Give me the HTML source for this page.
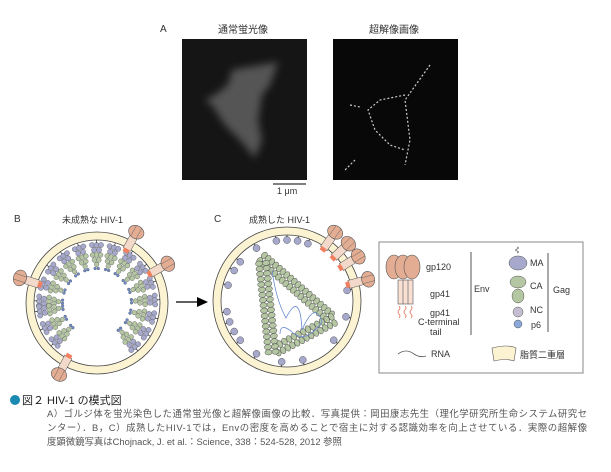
<!DOCTYPE html>
<html><head><meta charset="utf-8"><style>
body{margin:0;background:#fff;width:611px;height:472px;overflow:hidden;font-family:"Liberation Sans","Noto Sans CJK JP",sans-serif;}
svg{position:absolute;left:0;top:0}
</style></head><body>
<svg id="s" width="611" height="472" viewBox="0 0 611 472" font-family="Liberation Sans, Noto Sans CJK JP, sans-serif">
<defs>
<filter id="bl"><feGaussianBlur stdDeviation="4"/></filter>
</defs>
<text x="160" y="32" font-size="10" fill="#333">A</text>
<text x="218" y="33" font-size="10" fill="#333">通常蛍光像</text>
<text x="369" y="33" font-size="10" fill="#333">超解像画像</text>
<rect x="182" y="39" width="125" height="141" fill="#151515"/>
<g filter="url(#bl)">
<path d="M232 70 L278 62 L270 85 L262 95 L258 120 L262 140 L255 158 L240 140 L225 125 L212 105 L205 100 L215 95 L228 85 Z" fill="#555"/>
</g>
<rect x="333" y="39" width="125" height="141" fill="#080808"/>
<g stroke="#ccc" stroke-width="1.2" fill="none" stroke-dasharray="2 2">
<path d="M430 65 L405 100 L410 140 L405 165"/><path d="M405 95 L380 100 L368 110 L375 130 L390 145 L405 150"/><path d="M350 105 L360 107"/><path d="M355 160 L345 170"/>
</g>
<line x1="273" y1="184" x2="306" y2="184" stroke="#000"/>
<text x="277" y="194" font-size="9" fill="#333">1 μm</text>
<text x="14" y="222" font-size="10" fill="#333">B</text>
<text x="62" y="223" font-size="9" fill="#333">未成熟な HIV-1</text>
<text x="214" y="222" font-size="10" fill="#333">C</text>
<text x="249" y="223" font-size="9" fill="#333">成熟した HIV-1</text>
<g id="B"></g><g id="C"></g>
<line x1="176" y1="302" x2="198" y2="302" stroke="#000" stroke-width="1.3"/>
<path d="M208 302 L197 297 L197 307 Z" fill="#000"/>
<rect x="379" y="242" width="204" height="131" fill="#fff" stroke="#888"/>
<g id="L"></g>
<circle cx="15" cy="400" r="5" fill="#1a8ab0"/>
<text x="22" y="404" font-size="11" fill="#222">図２ HIV-1 の模式図</text>
<g font-size="9.4" fill="#555">
<text x="47" y="417" textLength="540">A）ゴルジ体を蛍光染色した通常蛍光像と超解像画像の比較．写真提供：岡田康志先生（理化学研究所生命システム研究セ</text>
<text x="47" y="431" textLength="540">ンター）．B，C）成熟したHIV-1では，Envの密度を高めることで宿主に対する認識効率を向上させている．実際の超解像</text>
<text x="47" y="445">度顕微鏡写真はChojnack, J. et al.：Science, 338：524-528, 2012 参照</text>
</g>
</svg>
<script>
const NS="http://www.w3.org/2000/svg";
function el(p,t,a){const e=document.createElementNS(NS,t);for(const k in a)e.setAttribute(k,a[k]);p.appendChild(e);return e;}
const B=document.getElementById('B'),C=document.getElementById('C'),L=document.getElementById('L');
function spike(g,cx,cy,r,deg){
 const gg=el(g,'g',{transform:`translate(${cx},${cy}) rotate(${deg+90})`});
 el(gg,'rect',{x:-4,y:-r-4,width:8,height:14,fill:'#f3d9c9',stroke:'#555','stroke-width':0.5});
 el(gg,'ellipse',{cx:0,cy:-r-10,rx:8,ry:6.5,fill:'#e2ad93',stroke:'#555','stroke-width':0.6});
 el(gg,'line',{x1:-3,y1:-r-16,x2:-3,y2:-r-4,stroke:'#555','stroke-width':0.4});
 el(gg,'line',{x1:3,y1:-r-16,x2:3,y2:-r-4,stroke:'#555','stroke-width':0.4});
 el(gg,'rect',{x:-3,y:-r+9,width:6,height:4,fill:'#f08060'});
}
function membrane(g,cx,cy,r){
 el(g,'circle',{cx,cy,r,fill:'#fcf3d3',stroke:'#444','stroke-width':0.8});
 el(g,'circle',{cx,cy,r:r-8,fill:'#fff',stroke:'#444','stroke-width':0.8});
}
// B
membrane(B,97,303,71);
const rows=[[58,[-4.5,0,4.5],2.6,'#a6a9cc'],[53,[-2.5,2.5],2.6,'#a6a9cc'],[48,[-4,0,4],2.4,'#b4c6a2'],[43,[-2.2,2.2],2.4,'#b4c6a2'],[38.5,[0],2.3,'#b4c6a2'],[34.5,[-1.6,1.6],1.4,'#6a8bd0']];
for(let a=-178;a<180;a+=17.5){
 if(a>52&&a<128)continue;
 const rad=a*Math.PI/180,c=Math.cos(rad),s=Math.sin(rad);
 rows.forEach(([rr,offs,sz,col])=>{offs.forEach(off=>{
   el(B,'circle',{cx:97+c*rr-s*off,cy:303+s*rr+c*off,r:sz,fill:col,stroke:'#555','stroke-width':0.4});
 });});
 el(B,'line',{x1:97+c*63,y1:303+s*63,x2:97+c*60,y2:303+s*60,stroke:'#333','stroke-width':0.7});
}
[-61,-29,-162,118].forEach(a=>spike(B,97,303,71,a));
// C
membrane(C,287,301,74);
[-100,-80,-120,-140,-165,170,150,120,95,75,40,15,-10,-150,-90,-70,160,140].forEach(a=>{
 const rad=a*Math.PI/180;
 el(C,'circle',{cx:287+Math.cos(rad)*61,cy:301+Math.sin(rad)*61,r:3.5,fill:'#a6a9cc',stroke:'#555','stroke-width':0.5});
 el(C,'line',{x1:287+Math.cos(rad)*66,y1:301+Math.sin(rad)*66,x2:287+Math.cos(rad)*64,y2:301+Math.sin(rad)*64,stroke:'#333','stroke-width':0.8});
});
[-55,-43,-32,-15].forEach(a=>spike(C,287,301,74,a));
// core
const core=[[262,258],[333,320],[272,352]];
function along(p,q,n){for(let i=0;i<n;i++){const t=i/n;const x=p[0]+(q[0]-p[0])*t,y=p[1]+(q[1]-p[1])*t;
 const dx=q[0]-p[0],dy=q[1]-p[1],l=Math.hypot(dx,dy),ang=Math.atan2(dy,dx)*180/Math.PI;
 for(const o of [-3.5,3.5]){
 el(C,'ellipse',{cx:x-dy/l*o,cy:y+dx/l*o,rx:2.6,ry:3.6,transform:`rotate(${ang} ${x-dy/l*o} ${y+dx/l*o})`,fill:'#b4c6a2',stroke:'#555','stroke-width':0.5});}}}
along(core[0],core[1],19);along(core[1],core[2],13);along(core[2],core[0],18);
el(C,'path',{d:'M272 270 Q276 300 286 318 Q300 290 302 330 Q315 300 322 322 Q305 345 292 332 Q280 322 280 334',fill:'none',stroke:'#6a8bd0','stroke-width':0.8});
// legend
for(const dx of [-9,0,9]){el(L,'ellipse',{cx:403+dx,cy:267,rx:8,ry:12,fill:'#e2ad93',stroke:'#555','stroke-width':0.6});}
el(L,'rect',{x:398,y:280,width:15,height:24,fill:'#f8e0d3',stroke:'#555','stroke-width':0.6});
el(L,'path',{d:'M403 280V304M408 280V304',stroke:'#555','stroke-width':0.6});
for(const x of [399,405,411])el(L,'path',{d:`M${x} 306 q2 2 0 4 q-2 2 0 4 q2 2 0 4`,fill:'none',stroke:'#e07050','stroke-width':0.8});
const T=(x,y,t,fs=9)=>{const e=el(L,'text',{x,y,'font-size':fs,fill:'#333'});e.textContent=t;};
T(426,270,'gp120');T(430,297,'gp41');T(430,316,'gp41');T(418,325,'C-terminal');T(430,335,'tail');
el(L,'line',{x1:471,y1:252,x2:471,y2:335,stroke:'#555','stroke-width':1});T(474,292,'Env');
el(L,'path',{d:'M517 247 q3 1 0 2 q-3 1 0 2 q3 1 0 2',fill:'none',stroke:'#555','stroke-width':0.7});
el(L,'ellipse',{cx:518,cy:263,rx:9,ry:7,fill:'#a6a9cc',stroke:'#555','stroke-width':0.5});
el(L,'ellipse',{cx:518,cy:282,rx:8,ry:6,fill:'#b4c6a2',stroke:'#555','stroke-width':0.5});
el(L,'ellipse',{cx:518,cy:296,rx:6,ry:7,fill:'#b4c6a2',stroke:'#555','stroke-width':0.5});
el(L,'ellipse',{cx:518,cy:312,rx:5,ry:5,fill:'#c7bdd3',stroke:'#555','stroke-width':0.5});
el(L,'ellipse',{cx:518,cy:324,rx:4,ry:4,fill:'#8aa8d8',stroke:'#555','stroke-width':0.5});
T(530,266,'MA');T(530,289,'CA');T(530,313,'NC');T(531,328,'p6');
el(L,'line',{x1:548,y1:253,x2:548,y2:332,stroke:'#555','stroke-width':1});T(553,293,'Gag');
el(L,'path',{d:'M398 354 q8 -6 16 0 q6 4 12 2',fill:'none',stroke:'#555','stroke-width':0.8});T(431,357,'RNA');
el(L,'path',{d:'M492 348 Q508 344 516 348 L514 361 Q506 358 494 361 Z',fill:'#fcf3d3',stroke:'#555','stroke-width':0.6});
T(520,358,'脂質二重層');
</script>
</body></html>
